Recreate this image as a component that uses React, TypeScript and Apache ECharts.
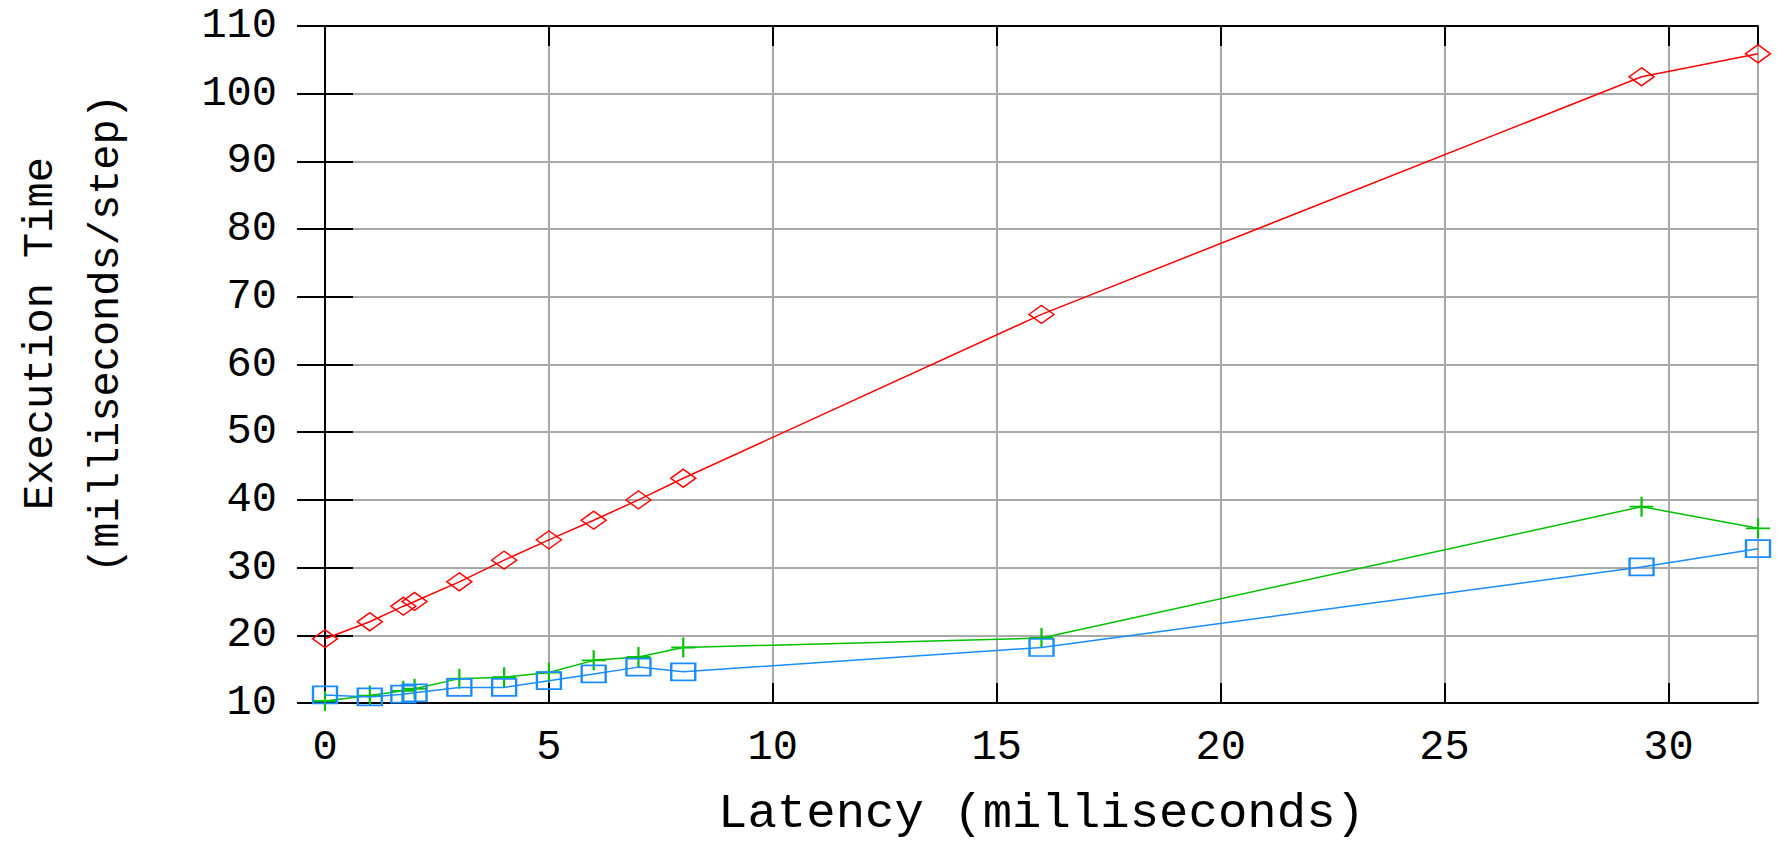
import React, { useEffect, useRef } from "react";
import * as echarts from "echarts";

// Latency (milliseconds)
const latency = [0, 1, 1.75, 2, 3, 4, 5, 6, 7, 8, 16, 29.4, 32];
// Execution time (milliseconds/step)
const redValues = [19.5, 22.0, 24.3, 25.0, 27.9, 31.1, 34.1, 37.0, 40.0, 43.2, 67.4, 102.5, 105.9];
const greenValues = [10.3, 11.1, 11.8, 12.1, 13.6, 13.8, 14.5, 16.3, 16.8, 18.2, 19.6, 39.0, 35.8];
const blueValues = [11.2, 10.9, 11.3, 11.5, 12.3, 12.3, 13.3, 14.3, 15.3, 14.6, 18.2, 30.1, 32.8];

const xMin = 0;
const xMax = 32;
const xStep = 5;
const yMin = 10;
const yMax = 110;
const yStep = 10;

const xTitle = "Latency (milliseconds)";
const yTitle = "Execution Time\n(milliseconds/step)";

const FONT = "'Liberation Mono', 'DejaVu Sans Mono', monospace";

function pairs(xs: number[], ys: number[]) {
  return xs.map((x, i) => [x, ys[i]]);
}

export default function App() {
  const ref = useRef<HTMLDivElement | null>(null);

  useEffect(() => {
    if (!ref.current) return;
    const chart = echarts.init(ref.current, null, { renderer: "svg" });

    const axisLine = { show: true, lineStyle: { color: "#000", width: 2 } };
    const gridLine = { show: true, lineStyle: { color: "#a9a9a9", width: 2 } };

    chart.setOption({
      animation: false,
      backgroundColor: "#fff",
      grid: {
        left: 325,
        top: 26,
        right: 19,
        bottom: 138,
        containLabel: false,
        outerBoundsMode: "none",
      },
      xAxis: [
        {
          type: "value",
          min: xMin,
          max: xMax,
          interval: xStep,
          position: "bottom",
          axisLine,
          axisTick: { show: true, inside: true, length: 20, lineStyle: { color: "#000", width: 2 } },
          splitLine: gridLine,
          axisLabel: {
            showMaxLabel: false,
            margin: 24,
            fontSize: 42,
            fontFamily: FONT,
            color: "#000",
          },
          name: xTitle,
          nameLocation: "middle",
          nameGap: 86,
          nameTextStyle: { fontSize: 49, lineHeight: 49, fontFamily: FONT, color: "#000" },
        },
        {
          type: "value",
          min: xMin,
          max: xMax,
          interval: xStep,
          position: "top",
          axisLine,
          axisTick: { show: true, inside: true, length: 20, lineStyle: { color: "#000", width: 2 } },
          splitLine: { show: false },
          axisLabel: { show: false },
        },
      ],
      yAxis: [
        {
          type: "value",
          min: yMin,
          max: yMax,
          interval: yStep,
          position: "left",
          axisLine,
          axisTick: { show: true, inside: true, length: 28, lineStyle: { color: "#000", width: 2 } },
          splitLine: gridLine,
          axisLabel: { margin: 48, fontSize: 42, fontFamily: FONT, color: "#000" },
          name: yTitle,
          nameLocation: "middle",
          nameRotate: 90,
          nameGap: 185,
          nameTextStyle: {
            fontSize: 42,
            lineHeight: 66,
            fontFamily: FONT,
            color: "#000",
            padding: [0, 0, 0, 62],
          },
        },
        {
          type: "value",
          min: yMin,
          max: yMax,
          interval: yStep,
          position: "right",
          axisLine,
          axisTick: { show: true, inside: true, length: 28, lineStyle: { color: "#000", width: 2 } },
          splitLine: { show: false },
          axisLabel: { show: false },
        },
      ],
      series: [
        {
          name: "red",
          type: "line",
          data: pairs(latency, redValues),
          symbol: "diamond",
          symbolSize: [25, 18],
          itemStyle: { color: "transparent", borderColor: "#ff0000", borderWidth: 1.5 },
          lineStyle: { color: "#ff0000", width: 1.5 },
          z: 3,
        },
        {
          name: "green",
          type: "line",
          data: pairs(latency, greenValues),
          symbol: "path://M0,10L24,10M12,0L12,20",
          symbolSize: [24, 20],
          itemStyle: { color: "transparent", borderColor: "#00c000", borderWidth: 2 },
          lineStyle: { color: "#00c000", width: 1.5 },
          z: 4,
        },
        {
          name: "blue",
          type: "line",
          data: pairs(latency, blueValues),
          symbol: "rect",
          symbolSize: [24, 17],
          itemStyle: { color: "transparent", borderColor: "#1a8cff", borderWidth: 2 },
          lineStyle: { color: "#1a8cff", width: 1.5 },
          z: 5,
        },
      ],
    });

    return () => chart.dispose();
  }, []);

  return (
    <div
      ref={ref}
      style={{ position: "fixed", left: 0, top: 0, width: 1777, height: 841, background: "#fff" }}
    />
  );
}
